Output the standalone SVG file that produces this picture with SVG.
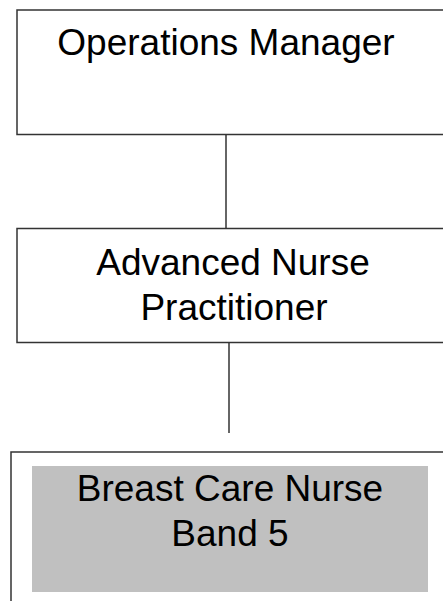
<svg xmlns="http://www.w3.org/2000/svg" width="443" height="601" viewBox="0 0 443 601">
<style>
.box{fill:#fff;stroke:#333;stroke-width:1.5}
.lbl{font-family:"Liberation Sans",Arial,sans-serif;font-size:37px;fill:#000;text-anchor:middle}
.conn{stroke:#333;stroke-width:1.5;fill:none}
</style>
<rect width="443" height="601" fill="#fff"/>
<g id="connectors">
<line class="conn" x1="226" y1="134.5" x2="226" y2="228"/>
<line class="conn" x1="229" y1="343" x2="229" y2="433"/>
</g>
<g id="ops-manager">
<rect class="box" x="17" y="10" width="440" height="124.5"/>
<text class="lbl" x="226" y="55">Operations Manager</text>
</g>
<g id="anp">
<rect class="box" x="17" y="228.5" width="440" height="114"/>
<text class="lbl" x="233" y="275">Advanced Nurse</text>
<text class="lbl" x="234" y="320">Practitioner</text>
</g>
<g id="bcn">
<rect class="box" x="11" y="452" width="446" height="170"/>
<rect x="32" y="466" width="396" height="126" fill="#c0c0c0"/>
<text class="lbl" x="230" y="501">Breast Care Nurse</text>
<text class="lbl" x="230" y="546">Band 5</text>
</g>
</svg>
